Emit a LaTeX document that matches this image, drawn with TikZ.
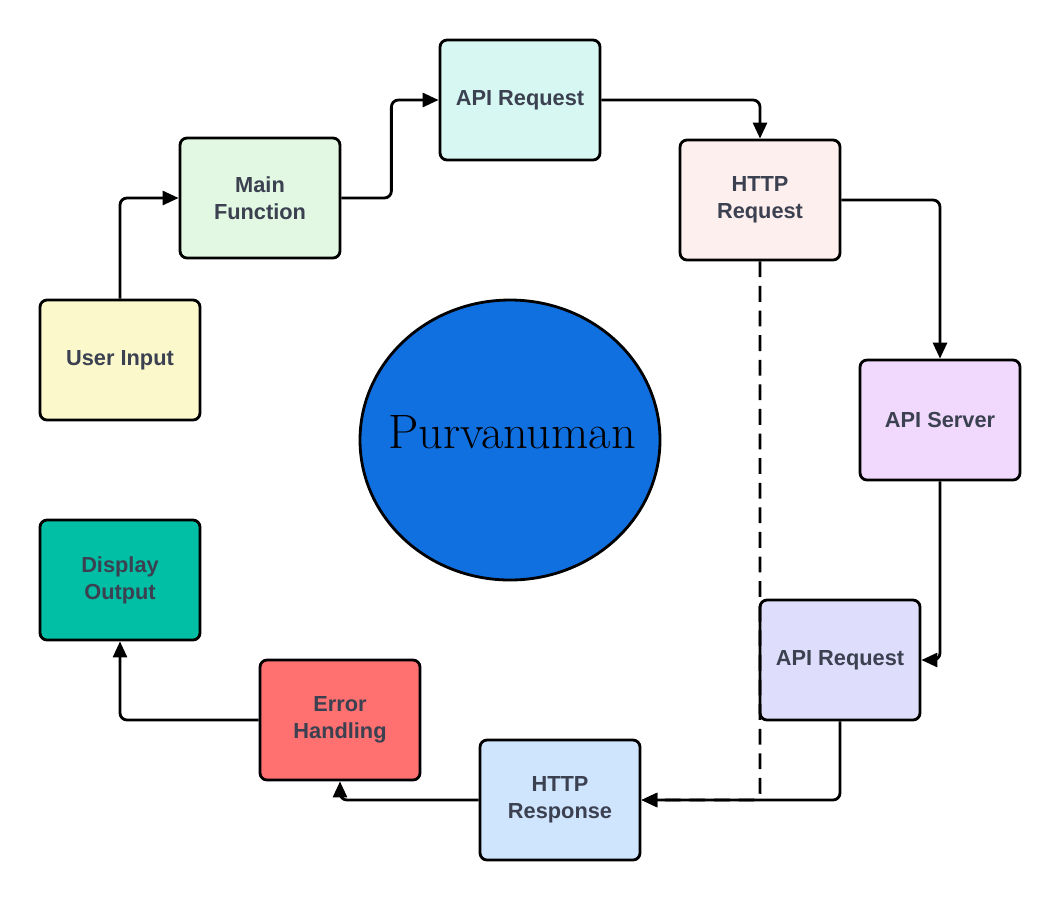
\documentclass[tikz,border=0pt]{standalone}
\usepackage{fontspec}
\setsansfont{Liberation Sans}
\usetikzlibrary{arrows.meta}
\definecolor{yellow1}{HTML}{FBF9CC}
\definecolor{green1}{HTML}{E2F8E2}
\definecolor{cyan1}{HTML}{D6F7F2}
\definecolor{pink1}{HTML}{FEEFEF}
\definecolor{purple1}{HTML}{F0D9FC}
\definecolor{lilac1}{HTML}{DEDEFC}
\definecolor{blue1}{HTML}{CFE4FD}
\definecolor{red1}{HTML}{FF7070}
\definecolor{teal1}{HTML}{00BFA5}
\definecolor{blue2}{HTML}{1070E0}
\definecolor{text1}{HTML}{3B4150}
\tikzset{
  box/.style={draw, rounded corners=4pt, minimum width=3.2cm, minimum height=2.4cm,
    align=center, text=text1, font=\sffamily\bfseries\fontsize{12.4}{15.2}\selectfont},
  link/.style={-{Triangle[length=0.32cm,width=0.28cm]}, rounded corners=4pt}
}
\begin{document}
\begin{tikzpicture}[x=0.02cm, y=-0.02cm, line width=1.6pt]
  \useasboundingbox (0,0) rectangle (1060,900);
  \node[box, fill=yellow1] (user) at (120,360) {User Input};
  \node[box, fill=green1] (mainf) at (260,198) {Main\\Function};
  \node[box, fill=cyan1] (api1) at (520,100) {API Request};
  \node[box, fill=pink1] (http1) at (760,200) {HTTP\\Request};
  \node[box, fill=purple1] (server) at (940,420) {API Server};
  \node[box, fill=lilac1] (api2) at (840,660) {API Request};
  \node[box, fill=blue1] (resp) at (560,800) {HTTP\\Response};
  \node[box, fill=red1] (err) at (340,720) {Error\\Handling};
  \node[box, fill=teal1] (disp) at (120,580) {Display\\Output};
  % centre circle
  \draw[fill=blue2] (510,440) ellipse [x radius=150, y radius=140];
  \node[font=\fontsize{27.5}{33}\selectfont] (purv) at (512,432) {Purvanuman};

  \draw[link] (user.north) |- (mainf.west);
  \draw[link] (mainf.east) -- ++(50,0) |- (api1.west);
  \draw[link] (api1.east) -| (http1.north);
  \draw[link] (http1.east) -| (server.north);
  \draw[link] (server.south) |- (api2.east);
  \draw[link] (api2.south) |- (resp.east);
  \draw[link, dashed, dash pattern=on 9pt off 5pt] (http1.south) |- (resp.east);
  \draw[link] (resp.west) -| (err.south);
  \draw[link] (err.west) -| (disp.south);
\end{tikzpicture}
\end{document}
